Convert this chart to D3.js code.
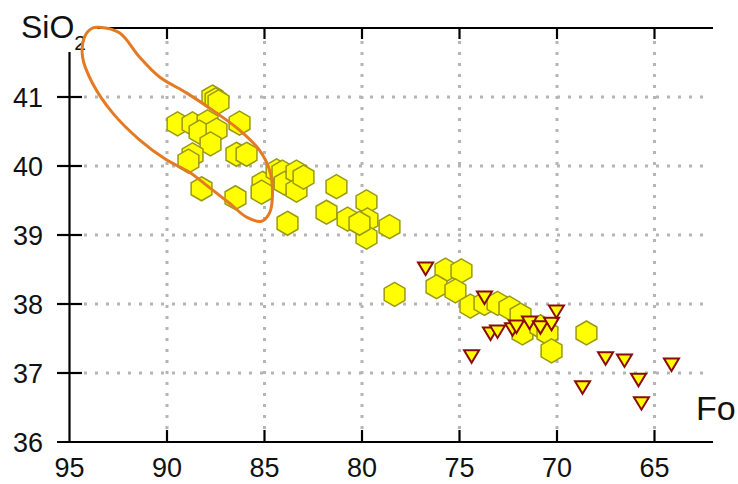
<!DOCTYPE html>
<html>
<head>
<meta charset="utf-8">
<script src="https://cdn.jsdelivr.net/npm/d3@7"></script>
<style>
  html, body { margin: 0; padding: 0; background: #ffffff; }
  svg { display: block; font-family: "Liberation Sans", Arial, sans-serif; }
</style>
</head>
<body>
<svg id="chart" width="738" height="484"></svg>
<script>
// ---- data ----
const xTicks = [95, 90, 85, 80, 75, 70, 65];
const yTicks = [36, 37, 38, 39, 40, 41];
const xLabel = "Fo";
const yLabelMain = "SiO";
const yLabelSub = "2";

// olivine analyses (hexagons)
const hexFo = [87.67, 87.51, 87.36, 89.46, 88.69, 87.92, 88.33, 87.46, 87.77, 86.28,
  88.69, 88.90, 86.44, 85.92, 88.23, 86.49, 85.10, 85.15, 84.38, 84.08,
  83.97, 83.36, 83.36, 83.00, 83.82, 81.31, 81.82, 80.74, 79.77, 79.72,
  79.77, 80.13, 78.59, 78.33, 75.72, 74.90, 76.18, 75.21, 74.44, 73.72,
  73.05, 72.44, 71.87, 71.77, 70.85, 70.49, 70.28, 68.49];
const hexSiO2 = [41.00, 40.96, 40.93, 40.61, 40.61, 40.64, 40.49, 40.52, 40.32, 40.62,
  40.16, 40.07, 40.17, 40.17, 39.67, 39.54, 39.75, 39.62, 39.93, 39.91,
  39.75, 39.91, 39.65, 39.84, 39.17, 39.70, 39.33, 39.23, 39.48, 39.22,
  38.97, 39.17, 39.12, 38.14, 38.49, 38.48, 38.25, 38.19, 37.97, 38.01,
  38.01, 37.94, 37.84, 37.58, 37.67, 37.58, 37.32, 37.58];

// second group (down triangles)
const triFo = [76.74, 73.72, 74.38, 73.41, 73.05, 72.28, 72.08, 71.41, 70.85, 70.28,
  70.03, 68.69, 67.51, 66.54, 65.82, 65.67, 64.13];
const triSiO2 = [38.52, 38.10, 37.25, 37.58, 37.61, 37.64, 37.68, 37.74, 37.67, 37.72,
  37.90, 36.80, 37.22, 37.19, 36.91, 36.57, 37.13];

// outlined field (closed curve)
const outlineFo = [93.46, 92.44, 91.41, 90.38, 89.00, 87.67, 86.28, 85.26, 84.74, 84.59,
  84.74, 85.15, 85.92, 86.79, 87.97, 88.85, 90.03, 91.41, 92.79, 93.82,
  94.33, 94.23, 93.82];
const outlineSiO2 = [42.01, 41.93, 41.58, 41.29, 41.06, 40.81, 40.52, 40.23, 39.94, 39.61,
  39.32, 39.20, 39.26, 39.46, 39.72, 39.91, 40.09, 40.38, 40.77, 41.20,
  41.58, 41.87, 42.00];

// ---- layout ----
const svg = d3.select("#chart");
const x = d3.scaleLinear().domain([95, 62]).range([69.5, 713]);
const y = d3.scaleLinear().domain([36, 42]).range([442, 28]);

const gridColor = "#b5b5b5";
const grid = svg.append("g");
// vertical grid
grid.selectAll("line.v").data(xTicks.filter(d => d !== 95)).join("line")
  .attr("x1", d => x(d)).attr("x2", d => x(d))
  .attr("y1", 41).attr("y2", 433)
  .attr("stroke", gridColor).attr("stroke-width", 3)
  .attr("stroke-dasharray", "3,8");
// horizontal grid
grid.selectAll("line.h").data(yTicks.filter(d => d !== 36)).join("line")
  .attr("x1", 84).attr("x2", 707)
  .attr("y1", d => y(d)).attr("y2", d => y(d))
  .attr("stroke", gridColor).attr("stroke-width", 3)
  .attr("stroke-dasharray", "3,8");

// axes
const axisG = svg.append("g").attr("stroke", "#000").attr("stroke-width", 2.2).attr("fill", "none");
axisG.append("line").attr("x1", x(95)).attr("x2", x(95)).attr("y1", 52).attr("y2", 442);
axisG.append("line").attr("x1", 57).attr("x2", 713).attr("y1", y(36)).attr("y2", y(36));
axisG.append("line").attr("x1", 97).attr("x2", 713).attr("y1", y(42)).attr("y2", y(42));
// bottom ticks (inward)
axisG.selectAll("line.bt").data(xTicks.filter(d => d !== 95)).join("line")
  .attr("x1", d => x(d)).attr("x2", d => x(d))
  .attr("y1", y(36)).attr("y2", y(36) - 12);
// top ticks (inward)
axisG.selectAll("line.tt").data(xTicks.filter(d => d !== 95)).join("line")
  .attr("x1", d => x(d)).attr("x2", d => x(d))
  .attr("y1", y(42)).attr("y2", y(42) + 11);
// left ticks (crossing)
axisG.selectAll("line.lt").data(yTicks.filter(d => d !== 36)).join("line")
  .attr("x1", 57).attr("x2", 82)
  .attr("y1", d => y(d)).attr("y2", d => y(d));

// tick labels
svg.append("g").selectAll("text").data(xTicks).join("text")
  .attr("x", d => x(d)).attr("y", 477)
  .attr("text-anchor", "middle").attr("font-size", 27).attr("fill", "#111")
  .text(d => d);
svg.append("g").selectAll("text").data(yTicks).join("text")
  .attr("x", 43).attr("y", d => y(d) + 10)
  .attr("text-anchor", "end").attr("font-size", 27).attr("fill", "#111")
  .text(d => d);

// axis titles
const yt = svg.append("text").attr("x", 21).attr("y", 38).attr("font-size", 32).attr("fill", "#111");
yt.append("tspan").text(yLabelMain);
yt.append("tspan").attr("font-size", 21).attr("dy", 12).text(yLabelSub);
svg.append("text").attr("x", 696).attr("y", 420).attr("font-size", 34).attr("fill", "#111").text(xLabel);

// hexagons
const r = 12;
const hexPath = d3.range(6).map(i => {
  const a = Math.PI / 180 * (60 * i - 90);
  return [r * Math.cos(a), r * Math.sin(a)];
});
const hexD = "M" + hexPath.map(p => p.join(",")).join("L") + "Z";
const hexData = hexFo.map((f, i) => ({ fo: f, si: hexSiO2[i] }));
svg.append("g").selectAll("path").data(hexData).join("path")
  .attr("d", hexD)
  .attr("transform", d => `translate(${x(d.fo)},${y(d.si)})`)
  .attr("fill", "#ffff00").attr("stroke", "#9a9a10").attr("stroke-width", 1.5);

// outline
const outline = outlineFo.map((f, i) => [x(f), y(outlineSiO2[i])]);
svg.append("path")
  .attr("d", d3.line().curve(d3.curveCatmullRomClosed.alpha(0.5))(outline))
  .attr("fill", "none").attr("stroke", "#e47a24").attr("stroke-width", 3);

// triangles (pointing down)
const triData = triFo.map((f, i) => ({ fo: f, si: triSiO2[i] }));
svg.append("g").selectAll("path").data(triData).join("path")
  .attr("d", "M-7.5,-5.5L7.5,-5.5L0,7Z")
  .attr("transform", d => `translate(${x(d.fo)},${y(d.si)})`)
  .attr("fill", "#ffff00").attr("stroke", "#8b0a0a").attr("stroke-width", 2)
  .attr("stroke-linejoin", "miter");
</script>
</body>
</html>
